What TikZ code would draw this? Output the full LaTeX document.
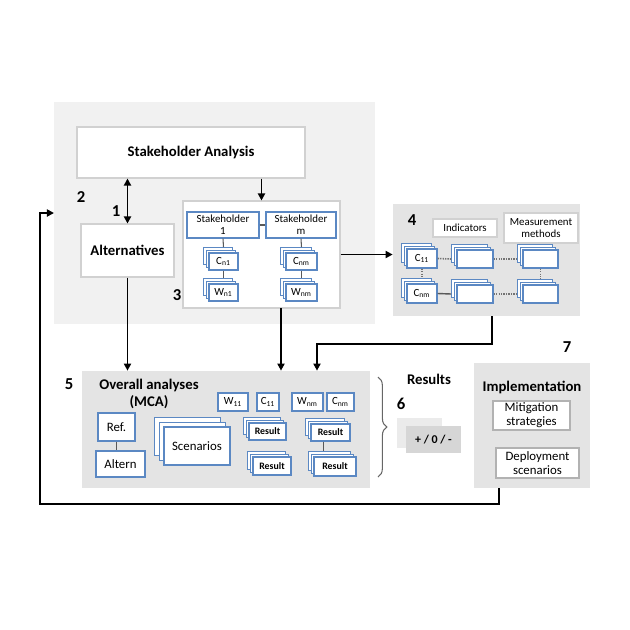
\documentclass[tikz,border=0pt]{standalone}
\usepackage{fontspec}
\setmainfont{Carlito}
\usetikzlibrary{shadows,decorations.pathreplacing,arrows.meta}

\definecolor{paleback}{HTML}{F1F1F1}
\definecolor{panelgrey}{HTML}{E4E4E4}
\definecolor{signgrey}{HTML}{D6D6D6}
\definecolor{edgeblue}{HTML}{5B88C3}

\tikzset{
	wh/.style 2 args={minimum width=#1*0.02cm, minimum height=#2*0.02cm},
	panel/.style={fill=panelgrey, draw=none, inner sep=0pt},
	plainbox/.style={fill=white, draw=black!18, line width=0.6pt, inner sep=0pt, align=center},
	bluebox/.style={fill=white, draw=edgeblue, line width=0.7pt, inner sep=0pt, align=center},
	pile/.style={bluebox, double copy shadow={shadow xshift=-1.5pt, shadow yshift=1.5pt}},
	bigpile/.style={bluebox, double copy shadow={shadow xshift=-2.6pt, shadow yshift=2.6pt}},
	flow/.style={-{Triangle[length=4pt,width=4pt]}, line width=1pt},
	twoway/.style={{Triangle[length=4pt,width=4pt]}-{Triangle[length=4pt,width=4pt]}, line width=1pt},
	link/.style={draw=black!65, line width=0.6pt},
	dotlink/.style={draw=black!55, line width=0.9pt, dash pattern=on 0.8pt off 0.6pt},
	num/.style={font=\bfseries\fontsize{9.5}{10}\selectfont},
	head/.style={font=\bfseries\fontsize{8.4}{9.8}\selectfont, align=center},
	tiny/.style={font=\fontsize{6.2}{6.8}\selectfont},
	tinybold/.style={font=\bfseries\fontsize{5.6}{6}\selectfont},
	mid/.style={font=\fontsize{7.3}{7.8}\selectfont},
}

\begin{document}
\begin{tikzpicture}[x=0.02cm, y=-0.02cm]
	\useasboundingbox (0,0) rectangle (630,630);

	% panels
	\node[panel, fill=paleback, wh={321}{222}] (area) at (214.5,213) {};
	\node[panel, wh={187}{112}] (meas) at (486.5,260) {};
	\node[panel, wh={288}{117}] (overall) at (226,429.5) {};
	\node[panel, wh={116}{125}] (impl) at (532,425.5) {};

	% steps 1 to 3
	\node[plainbox, head, wh={228}{51}] (sa) at (191,152.5) {Stakeholder Analysis};
	\node[plainbox, head, wh={93}{53}] (alt) at (127.5,250.5) {Alternatives};
	\node[plainbox, wh={157}{107}] (stk) at (261.5,254.5) {};
	\node[bluebox, tiny, wh={72}{26}] (sh1) at (223,225) {Stakeholder\\1};
	\node[bluebox, tiny, wh={70}{26}] (shm) at (301,225) {Stakeholder\\m};
	\node[pile, tiny, wh={29}{17}] (cn1) at (223.5,261.5) {C\textsubscript{n1}};
	\node[pile, tiny, wh={29}{17}] (wn1) at (223.5,292.5) {W\textsubscript{n1}};
	\node[pile, tiny, wh={31}{17}] (cnm) at (301.5,261.5) {C\textsubscript{nm}};
	\node[pile, tiny, wh={31}{17}] (wnm) at (301.5,292.5) {W\textsubscript{nm}};

	\draw[link] (sh1.east) -- (shm.west);
	\draw[link] (sh1.south) -- ([yshift=3pt]cn1.north);
	\draw[link] (cn1.south) -- ([yshift=3pt]wn1.north);
	\draw[link] (shm.south) -- ([yshift=3pt]cnm.north);
	\draw[link] (cnm.south) -- ([yshift=3pt]wnm.north);

	\node[num] (n2) at (81,197) {2};
	\node[num] (n1) at (116,211) {1};
	\node[num] (n3) at (177,295) {3};

	% step 4
	\node[num] (n4) at (412,220) {4};
	\node[plainbox, tiny, wh={64}{18}] (ind) at (465,228) {Indicators};
	\node[plainbox, tiny, wh={74}{30}] (mm) at (541,228) {Measurement\\methods};
	\node[pile, tiny, wh={30}{19}] (c11) at (422,258.5) {C\textsubscript{11}};
	\node[pile, wh={36}{18}] (mid1) at (475,259) {};
	\node[pile, wh={35}{18}] (right1) at (540.5,259) {};
	\node[pile, tiny, wh={30}{19}] (c4nm) at (422,293.5) {C\textsubscript{nm}};
	\node[pile, wh={36}{18}] (mid2) at (475,294) {};
	\node[pile, wh={35}{18}] (right2) at (540.5,294) {};

	\draw[dotlink] (c11.east) -- ([xshift=-3pt]mid1.west);
	\draw[dotlink] (mid1.east) -- ([xshift=-3pt]right1.west);
	\draw[dotlink] (c11.south) -- ([yshift=3pt]c4nm.north);
	\draw[dotlink] (right1.south) -- ([yshift=3pt]right2.north);
	\draw[link, line width=0.8pt] (c4nm.east) -- ([xshift=-3pt]mid2.west);
	\draw[dotlink] (mid2.east) -- ([xshift=-3pt]right2.west);

	% step 5
	\node[num] (n5) at (69,384) {5};
	\node[head] (mca) at (149,394) {Overall analyses\\(MCA)};
	\node[bluebox, mid, wh={37}{28}] (ref) at (116.5,427) {Ref.};
	\node[bluebox, mid, wh={49}{26}] (altern) at (120.5,464) {Altern};
	\node[bigpile, mid, wh={66}{38}] (scen) at (197,446) {Scenarios};
	\node[bluebox, tiny, wh={30}{18}] (w11) at (233,402) {W\textsubscript{11}};
	\node[bluebox, tiny, wh={22}{18}] (c5one) at (268,402) {C\textsubscript{11}};
	\node[bluebox, tiny, wh={31}{18}] (w5nm) at (307.5,402) {W\textsubscript{nm}};
	\node[bluebox, tiny, wh={27}{18}] (c5nm) at (340.5,402) {C\textsubscript{nm}};
	\node[pile, tinybold, wh={37}{17}] (res1) at (267.5,431.5) {Result};
	\node[pile, tinybold, wh={38}{18}] (res2) at (272,466) {Result};
	\node[pile, tinybold, wh={39}{17}] (res3) at (330.5,432.5) {Result};
	\node[pile, tinybold, wh={42}{19}] (res4) at (335,466.5) {Result};

	\draw[link] (ref.south) -- (ref.south |- altern.north);
	\draw[link] ([xshift=-4pt]res3.south) -- ([xshift=-4pt,yshift=3pt]res3.south |- res4.north);

	% step 6
	\draw[black!60, line width=0.6pt, decorate, decoration={brace, amplitude=5pt}]
		(378,377) -- (378,477);
	\node[head] (results) at (429,379) {Results};
	\node[num] (n6) at (401,404) {6};
	\fill[black!8] (397,418) rectangle (442,448);
	\node[panel, fill=signgrey, font=\bfseries\fontsize{6.8}{7}\selectfont, wh={55}{27}] (sign) at (433.5,439.5) {+ / 0 / -};

	% step 7
	\node[num] (n7) at (567,347) {7};
	\node[head] (impltxt) at (532,387) {Implementation};
	\node[plainbox, draw=black!30, mid, wh={77}{29}] (mitig) at (531.5,415.5) {Mitigation\\strategies};
	\node[plainbox, draw=black!30, mid, wh={83}{30}] (deploy) at (537.5,463) {Deployment\\scenarios};

	% arrows
	\coordinate (drop3) at (281,308);
	\coordinate (drop4) at (492,316);
	\coordinate (bend4) at (317,344);
	\coordinate (drop7) at (499,488);
	\coordinate (loop) at (40,504);
	\coordinate (entry) at (54,213);

	\draw[twoway] (sa.south -| alt.north) -- (alt.north);
	\draw[flow] (sa.south -| stk.north) -- (stk.north);
	\draw[flow] (stk.east) -- (stk.east -| meas.west);
	\draw[flow] (alt.south) -- (alt.south |- overall.north);
	\draw[flow] (drop3) -- (drop3 |- overall.north);
	\draw[flow] (drop4) |- (bend4) -- (bend4 |- overall.north);
	\draw[flow] (drop7) |- (loop) |- (entry);
\end{tikzpicture}
\end{document}
